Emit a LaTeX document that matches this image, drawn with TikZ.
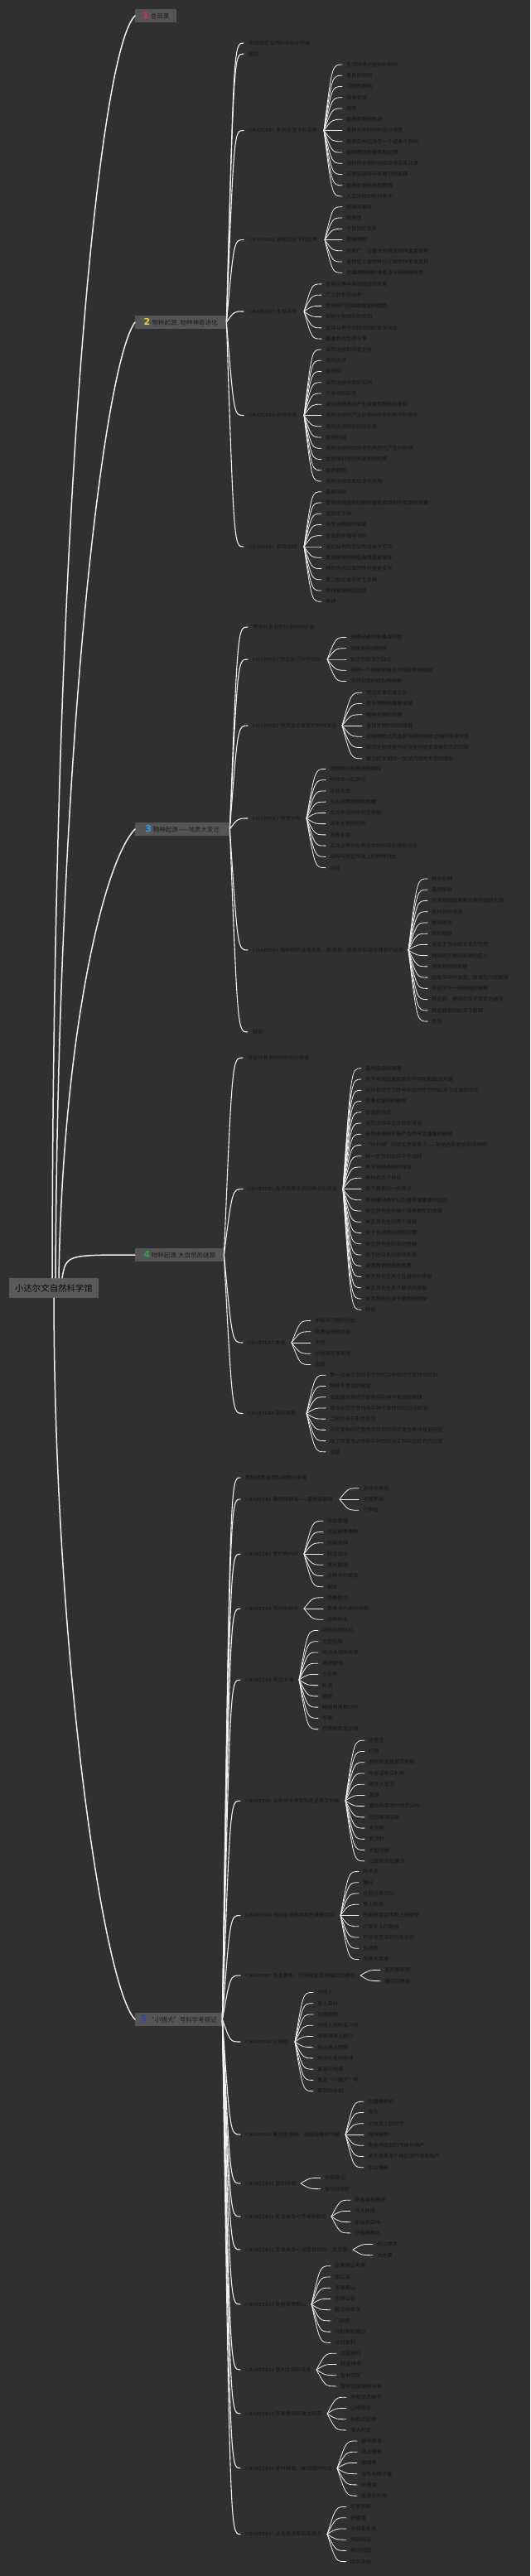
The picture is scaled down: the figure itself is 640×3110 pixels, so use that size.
\documentclass[tikz,border=0pt]{standalone}
\usepackage{fontspec}
\setmainfont{Noto Sans CJK SC}
\newfontfamily\chf{Liberation Serif}
\newfontfamily\numf{DejaVu Sans}
\definecolor{bgc}{HTML}{303030}
\definecolor{leafc}{HTML}{161616}
\definecolor{linec}{HTML}{F0F0F0}
\definecolor{boxc}{HTML}{555555}
\definecolor{boxt}{HTML}{1C1C1C}
\definecolor{rootc}{HTML}{5A5A5A}
\definecolor{roott}{HTML}{0A0A0A}
\definecolor{nA}{HTML}{E0245E}
\definecolor{nB}{HTML}{F2D13C}
\definecolor{nC}{HTML}{2F9DE0}
\definecolor{nD}{HTML}{2EA043}
\definecolor{nE}{HTML}{2B4AA8}
\tikzset{
  leaf/.style={anchor=west,inner xsep=5pt,inner ysep=1pt,text=leafc,font=\fontsize{6.2}{7}\selectfont},
  chap/.style={anchor=west,inner xsep=6pt,inner ysep=1pt,text=leafc,font=\fontsize{6.2}{7}\selectfont},
  fanline/.style={draw=linec,line width=0.8pt,line cap=round},
  secline/.style={draw=linec,line width=1.1pt,line cap=round},
  rootline/.style={draw=linec,line width=1.5pt,line cap=round},
  branch/.style={anchor=west,fill=boxc,text=boxt,minimum height=16pt,inner sep=0pt,font=\fontsize{7.5}{8}\selectfont},
  rootbox/.style={fill=rootc,text=roott,minimum width=108pt,minimum height=24pt,inner sep=0pt,font=\fontsize{10.4}{11}\selectfont},
}
\newcommand\CH[1]{{\chf CHAPTER#1}\hspace{2pt}}
\newcommand\num[2]{{\numf\bfseries\fontsize{11}{11}\selectfont\color{#1}#2}\hspace{2pt}}
% section child: box, hub x, name, text x, y, text
\newcommand\sch[6]{%
  \node[chap] (#3) at (#4-6,#5) {#6};
  \pgfmathsetmacro\cxx{#2+0.45*(#4-6-#2)}%
  \draw[secline] (#1.east) .. controls (\cxx,#5) .. (#3.west);
}
% fan: name, hub x, center y, child text x, n, list
\newcommand\fan[6]{%
  \coordinate (#1h) at (#2,#3);
  \foreach \t [count=\i] in {#6}{%
    \pgfmathsetmacro\yy{#3+(\i-(#5+1)/2)*13.25}%
    \pgfmathsetmacro\cx{#2+0.45*(#4-5-#2)}%
    \node[leaf] (#1-\i) at (#4-5,\yy) {\t};
    \draw[fanline] (#1h) .. controls (\cx,\yy) .. (#1-\i.west);
  }%
}
\begin{document}
\begin{tikzpicture}[x=1pt,y=-1pt]
\fill[bgc] (0,0) rectangle (640,3110);
\useasboundingbox (0,0) rectangle (640,3110);

% root and branches
\node[rootbox] (root) at (65,1555) {小达尔文自然科学馆};
\node[branch,minimum width=50pt] (S1) at (163,19) {\num{nA}{1}总目录};
\node[branch,minimum width=110pt] (S2) at (163,389) {\num{nB}{2}物种起源. 物种神奇进化};
\node[branch,minimum width=114pt] (S3) at (163,1001) {\num{nC}{3}物种起源——地质大变迁};
\node[branch,minimum width=107pt] (S4) at (163,1515) {\num{nD}{4}物种起源.大自然的谜题};
\node[branch,minimum width=105pt] (S5) at (163,2438) {\num{nE}{5}“小猎犬”号科学考察记};

\draw[rootline] ([xshift=-2pt]root.north) .. controls (64,600) and (120,60) .. (S1.west);
\draw[rootline] ([xshift=2pt]root.north) .. controls (70,900) and (125,440) .. (S2.west);
\draw[rootline] ([xshift=6pt]root.north) .. controls (76,1250) and (125,1040) .. (S3.west);
\draw[rootline] ([xshift=10pt]root.north) .. controls (80,1515) .. (S4.west);
\draw[rootline] (root.south) .. controls (66,2000) and (125,2400) .. (S5.west);

% ---------------- section 2
\sch{S2}{273}{s2a}{300}{52}{写给热爱自然科学的小学者}
\sch{S2}{273}{s2b}{300}{65}{绪论}
\sch{S2}{273}{s2c1}{300}{157.5}{\CH{1}家养状况下的变异}
\sch{S2}{273}{s2c2}{300}{289.5}{\CH{2}自然状况下的变异}
\sch{S2}{273}{s2c3}{300}{376}{\CH{3}生存斗争}
\sch{S2}{273}{s2c4}{300}{501.5}{\CH{4}自然选择}
\sch{S2}{273}{s2c5}{300}{660}{\CH{5}变异法则}
\fan{s2c1}{391}{157.5}{418}{13}{生活环境对生物的影响,变异的原因,习性的影响,相关变异,遗传,家养变种的性状,变种与物种间的区分难题,家养变种起源于一个或多个物种,各种家鸽的差异及起源,古代所依据的选择原理及其效果,无意识选择与有意识的选择,家养生物的未知起源,人工选择的有利条件}
\fan{s2c2}{392}{289.5}{418}{7}{变异与差异,变异性,个体间的差异,可疑物种,分布广、分散大的常见物种最易变异,各地区大属物种比小属物种更易变异,大属物种间的关系及分布的局限性}
\fan{s2c3}{367}{376}{393}{6}{生存斗争与自然选择的关系,广义的生存斗争,生物按几何级数增加的趋势,抑制生物增长的原因,生存斗争中动植物间的复杂关系,最激烈的生存斗争}
\fan{s2c4}{367}{501.5}{393}{13}{自然选择即适者生存,自然选择,性选择,自然选择作用的实例,个体间的杂交,通过自然选择产生新类型的有利条件,自然选择对产生新物种的有利和不利条件,自然选择所引起的灭绝,性状分歧,自然选择对共同祖先的后代产生的影响,生物体制进化所达到的程度,性状趋同,自然选择会发挥哪些作用}
\fan{s2c5}{367}{660}{393}{11}{变异法则,受到自然选择控制的器官使用和不使用的效果,适应性变异,与生长相关的变异,生长的补偿与节约,退化结构和低级构造易于变异,发育异常的构造高度容易变异,种的性状比属的性状更易变异,第二性征易于发生变异,物种变异的近似性,总述}

% ---------------- section 3
\sch{S3}{277}{s3a}{305}{757}{写给热爱自然科学的小学者}
\sch{S3}{277}{s3c1}{305}{796}{\CH{1}写在岩石中的历史}
\sch{S3}{277}{s3c2}{305}{876}{\CH{2}地质变迁导致的物种变迁}
\sch{S3}{277}{s3c3}{305}{988}{\CH{3}地理分布}
\sch{S3}{277}{s3c4}{305}{1147}{\CH{4}物种间的亲缘关系：形态学、胚胎学和退化器官的证据}
\sch{S3}{277}{s3b}{305}{1246}{结论}
\fan{s3c1}{395}{796}{423}{5}{地质记录中的难点问题,消失的中间物种,古生物标本的缺乏,任何一个岩层中缺乏中间变种的原因,突然出现的相似物种群}
\fan{s3c2}{413}{876}{442}{7}{写在本章论述之前,关于物种的缓慢演替,物种与群的灭绝,全球生物的同时演替,灭绝物种之间及其与现存物种之间的亲缘关系,古代生物类型与现存生物类型发展状态的比较,第三纪末期同一区域内相同类型的演替}
\fan{s3c3}{370}{988}{398}{10}{对物种分布情况的解释,物种单一起源论,迁移方式,冰川时期的物种传播,南北半球的冰河交替期,淡水生物的分布,海岛生物,海岛上不存在两栖动物和陆生哺乳动物,岛屿与邻近大陆上的物种对比,总结}
\fan{s3c4}{493}{1147}{521}{14}{群中有群,自然系统,分类规则及具有分类价值的东西,变种的分类法,类似性状,同功相似,连接生物亲缘关系的性质,物种的灭绝与类群的定义,消失的中间类群,胚胎学中的法则、原理及问题解释,形态学中一些问题的解释,残迹的、萎缩的及不发育的器官,残迹器官的起源及解释,总结}

% ---------------- section 4
\sch{S4}{270}{s4a}{299}{1277}{写给热爱自然科学的小学者}
\sch{S4}{270}{s4c6}{299}{1435.5}{\CH{6}自然选择学说的难点与异议}
\sch{S4}{270}{s4c7}{299}{1621}{\CH{7}本能}
\sch{S4}{270}{s4c8}{299}{1706.5}{\CH{8}杂交现象}
\fan{s4c6}{414}{1435.5}{441}{23}{自然选择的难题,关于中间过渡类型的不存在和缺乏问题,对具有特殊习性与构造的生物的起源与过渡的讨论,完美且复杂的器官,过渡的方式,自然选择学说存在的难点,自然选择所不能产生的不太重要的器官,“功利说”的真实性有多少——美丽色彩是如何获得的,统一类型和生存条件法则,关于物种永恒的异议,物种的几个异议,关于器官的一些异议,有些被分类学认为是非常重要的性状,米瓦特先生对微小变异累积的质疑,米瓦特先生的两个质疑,关于长颈鹿长颈的问题,米瓦特先生的其他质疑,关于比目鱼的奇特形态,决定器官构造的因素,米瓦特先生关于性器官的质疑,米瓦特先生关于鲸须的质疑,米瓦特先生关于植物的质疑,结论}
\fan{s4c7}{352}{1621}{380}{5}{本能与习性的对比,家养动物的本能,天性,中性和不育昆虫,总结}
\fan{s4c8}{370}{1706.5}{398}{8}{第一次杂交后的不育性和杂种后代不育性的区别,物种不育性的程度,支配首次杂交不育性与杂种不育性的规律,首次杂交不育性与杂种不育性的起因与原因,二形性与三形性杂交,杂交变种的可育性及其后代的可育性并非普遍存在,除了可育性之外的杂种后代与变种杂交后代的比较,总结}

% ---------------- section 5
\sch{S5}{268}{s5a}{296}{1784}{写给热爱自然科学的小学者}
\sch{S5}{268}{s5c1}{296}{1810}{\CH{1}佛得角群岛——圣地亚哥岛}
\sch{S5}{268}{s5c2}{296}{1876}{\CH{2}里约热内卢}
\sch{S5}{268}{s5c3}{296}{1942}{\CH{3}马尔多纳多}
\sch{S5}{268}{s5c4}{296}{2028}{\CH{4}布兰卡港}
\sch{S5}{268}{s5c5}{296}{2174}{\CH{5}从布兰卡港到布宜诺斯艾利斯}
\sch{S5}{268}{s5c6}{296}{2312.5}{\CH{6}乌拉圭河东岸和巴塔哥尼亚}
\sch{S5}{268}{s5c7}{296}{2385}{\CH{7}圣克鲁斯、巴塔哥尼亚和福克兰群岛}
\sch{S5}{268}{s5c8}{296}{2465}{\CH{8}火地岛}
\sch{S5}{268}{s5c9}{296}{2577}{\CH{9}麦哲伦海峡：南部海岸的气候}
\sch{S5}{268}{s5c10}{296}{2636}{\CH{10}智利中部}
\sch{S5}{268}{s5c11}{296}{2676}{\CH{11}奇洛埃岛与乔诺斯群岛}
\sch{S5}{268}{s5c12}{296}{2716}{\CH{12}奇洛埃岛与康塞普西翁：大地震}
\sch{S5}{268}{s5c13}{296}{2782}{\CH{13}穿越安第斯山}
\sch{S5}{268}{s5c14}{296}{2861}{\CH{14}智利北部和秘鲁}
\sch{S5}{268}{s5c15}{296}{2914}{\CH{15}塔希提岛和澳大利亚}
\sch{S5}{268}{s5c16}{296}{2980}{\CH{16}基林群岛：珊瑚礁的构造}
\sch{S5}{268}{s5c17}{296}{3059.5}{\CH{17}从毛里求斯到英格兰}
\fan{s5c1}{410}{1810}{438}{3}{圣地亚哥岛,圣保罗岩,巴伊亚}
\fan{s5c2}{367}{1876}{395}{7}{吸血蝙蝠,远征弗里奥角,热带雨林,陆生涡虫,发光昆虫,丛林中的昆虫,蜘蛛}
\fan{s5c3}{367}{1942}{395}{3}{南美鸵鸟,南美洲鸟类的分布,动物标本}
\fan{s5c4}{361}{2028}{389}{10}{陆生动物化石,巨型犰狳,布兰卡港的考察,美洲鸵鸟,小犰狳,蛇类,蟾蜍,蜥蜴和两栖动物,冬眠,巴塔哥尼亚沙漠}
\fan{s5c5}{417}{2174}{445}{12}{骑警营,打猎,前往布宜诺斯艾利斯,布宜诺斯艾利斯,高乔人生活,盐湖,潘帕斯草原的地质结构,巴拉那河沿岸,大干旱,美洲豹,大型鸟类,三趾鸵鸟的巢穴}
\fan{s5c6}{411}{2312.5}{438}{9}{牧羊犬,赛马,拉普拉塔河口,登上陆地,巴塔哥尼亚平原上的原驼,印第安人的墓地,巴塔哥尼亚的贝壳化石,长颈驼,南美大草原}
\fan{s5c7}{435}{2385}{464}{2}{圣克鲁斯河,福克兰群岛}
\fan{s5c8}{356}{2465}{383}{10}{火地人,岛上森林,以物易物,火地人的野蛮习俗,南美洲海上航行,送火地人回家,再访比格尔海峡,重返火地岛,重返“小猎犬”号,最后的告别}
\fan{s5c9}{417}{2577}{444}{7}{饥饿港附近,海鸟,火地岛上的动物,海洋植物,南美洲南部的气候与物产,关于南美各个地区的气候和物产,冰山漂砾}
\fan{s5c10}{363}{2636}{392}{2}{安第斯山,智利的铜矿}
\fan{s5c11}{400}{2676}{428}{4}{奇洛埃岛概况,岛上居民,原始的森林,乔诺斯群岛}
\fan{s5c12}{426}{2716}{455}{2}{火山爆发,大地震}
\fan{s5c13}{376}{2782}{404}{8}{安第斯山考察,雪红藻,波蒂略山,东侧山谷,蝗虫与臭虫,门多萨,乌斯帕拉塔山,返回智利}
\fan{s5c14}{382}{2861}{411}{4}{北部旅行,科金博港,智利铜矿,智利北部植物分布}
\fan{s5c15}{395}{2914}{423}{4}{塔希提岛概况,山地植被,新西兰见闻,澳大利亚}
\fan{s5c16}{407}{2980}{436}{6}{基林群岛,岛上植物,珊瑚礁,海龟与椰子蟹,环礁湖,堡礁的形成}
\fan{s5c17}{395}{3059.5}{423}{6}{毛里求斯,好望角,圣赫勒拿岛,阿森松岛,再访巴西,回到英国}
\end{tikzpicture}
\end{document}
